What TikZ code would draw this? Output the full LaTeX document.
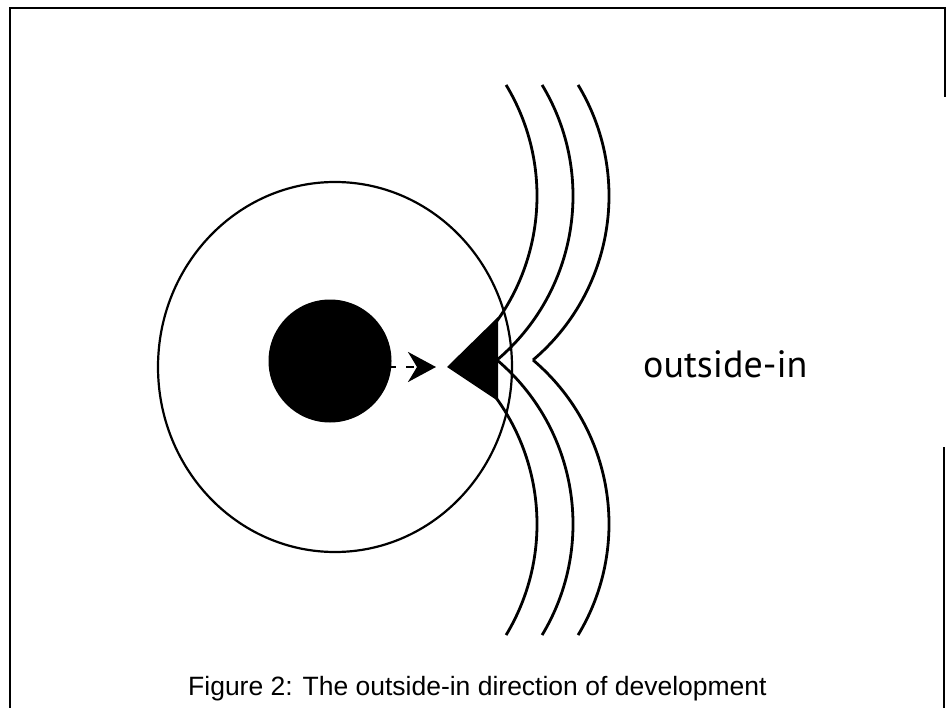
\documentclass[tikz,border=0pt]{standalone}
\usepackage{fontspec}
\setmainfont{Liberation Sans}
\newfontfamily\labelfont{PT Sans}
\usetikzlibrary{arrows.meta}
\begin{document}
\begin{tikzpicture}[x=1pt,y=1pt,
  frameline/.style={line width=2.6pt},
  wave/.style={line width=2.8pt},
  ring/.style={line width=2.2pt},
  dotnode/.style={circle,fill=black,inner sep=0pt,minimum size=123pt},
  lbl/.style={inner sep=0pt,font=\labelfont\fontsize{38}{40}\selectfont},
  captext/.style={inner sep=0pt,font=\fontsize{26.5}{28}\selectfont}]
\useasboundingbox (0,0) rectangle (949,-708);
% frame
\draw[frameline] (10,-708) -- (10,-8) -- (945,-8) -- (945,-97);
\draw[frameline] (944,-447) -- (944,-708);
% big circle
\draw[ring] (335,-367) ellipse [x radius=177, y radius=185];
% black dot
\node[dotnode] (dot) at (330,-361) {};
% triangle
\fill (447,-367) -- (498,-317) -- (498,-401) -- cycle;
\coordinate (tip) at (436,-367);
\draw[line width=2.6pt, dash pattern=on 5pt off 10pt on 8pt off 100pt,
  -{Stealth[length=28pt,width=30pt,inset=9pt]}] (391,-367) -- (tip);
% waves
\foreach \cx in {322,358,394}{
  \draw[wave] (\cx,-196) ++(31.1:215) arc[start angle=31.1, end angle=-49.7, radius=215];
  \draw[wave] (\cx,-524) ++(49.7:215) arc[start angle=49.7, end angle=-31.1, radius=215];
}
% labels
\node[lbl,anchor=base west] (oi) at (643,-377) {outside-in};
\node[captext,anchor=base west] (caption) at (188,-695) {Figure 2: The outside-in direction of development};
\end{tikzpicture}
\end{document}
